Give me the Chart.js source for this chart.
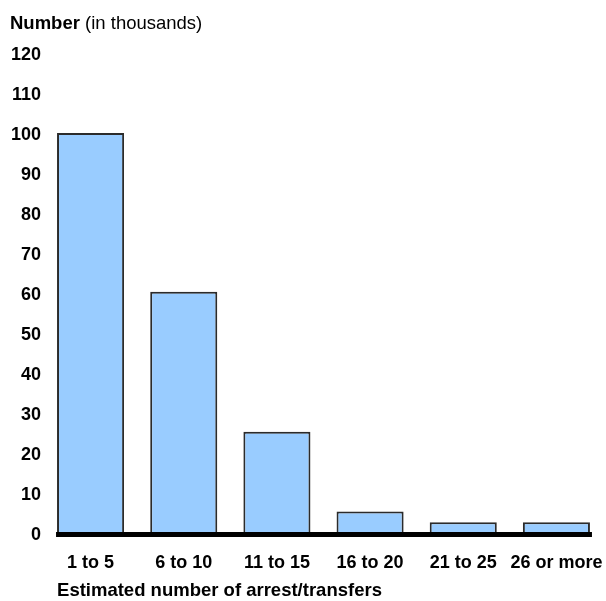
<!DOCTYPE html>
<html>
<head>
<meta charset="utf-8">
<script src="https://cdn.jsdelivr.net/npm/chart.js@4/dist/chart.umd.min.js"></script>
<style>
  html, body { margin: 0; padding: 0; background: #fff; }
  #wrap { width: 606px; height: 601px; position: relative; }
</style>
</head>
<body>
<div id="wrap"><canvas id="c"></canvas></div>
<script>
// Arrest/transfer counts, in thousands
const categories = ['1 to 5', '6 to 10', '11 to 15', '16 to 20', '21 to 25', '26 or more'];
const values = [100.5, 60.8, 25.8, 5.9, 3.2, 3.2];
const yTicks = [0, 10, 20, 30, 40, 50, 60, 70, 80, 90, 100, 110, 120];

const FONT = '"Liberation Sans", Arial, Helvetica, sans-serif';

// Heading above the value axis and caption under the category labels
const textPlugin = {
  id: 'texts',
  afterDraw(chart) {
    const ctx = chart.ctx;
    ctx.save();
    ctx.fillStyle = '#000';
    ctx.textBaseline = 'alphabetic';
    ctx.textAlign = 'left';
    ctx.font = 'bold 18.5px ' + FONT;
    const bold = 'Number';
    ctx.fillText(bold, 10, 29);
    const w = ctx.measureText(bold).width;
    ctx.font = '18.5px ' + FONT;
    ctx.fillText(' (in thousands)', 10 + w, 29);

    const meta = chart.getDatasetMeta(0);
    const first = meta.data[0];
    const left = first.x - first.width / 2;
    ctx.font = 'bold 18.5px ' + FONT;
    ctx.fillText('Estimated number of arrest/transfers', left, 596);
    ctx.restore();
  }
};

// Heavy zero line spanning the bars
const baselinePlugin = {
  id: 'baseline',
  afterDatasetsDraw(chart) {
    const meta = chart.getDatasetMeta(0);
    const a = meta.data[0], b = meta.data[meta.data.length - 1];
    const y = chart.scales.y.getPixelForValue(0);
    const ctx = chart.ctx;
    ctx.save();
    ctx.fillStyle = '#000';
    ctx.fillRect(a.x - a.width / 2 - 1, y - 3, (b.x + b.width / 2) - (a.x - a.width / 2) + 3, 5);
    ctx.restore();
  }
};

new Chart(document.getElementById('c'), {
  type: 'bar',
  data: {
    labels: categories,
    datasets: [{
      data: values,
      backgroundColor: '#99CCFF',
      borderColor: '#2b2b2b',
      borderWidth: 2,
      borderSkipped: false,
      barPercentage: 0.72,
      categoryPercentage: 1.0
    }]
  },
  options: {
    responsive: true,
    maintainAspectRatio: false,
    animation: false,
    layout: { padding: { top: 55, right: 3, left: 0, bottom: 0 } },
    plugins: { legend: { display: false }, tooltip: { enabled: false } },
    scales: {
      x: {
        grid: { display: false, drawTicks: false },
        border: { display: false },
        ticks: {
          color: '#000',
          font: { family: FONT, size: 18, weight: 'bold' },
          padding: 17,
          maxRotation: 0,
          autoSkip: false
        },
        afterFit(s) { s.height = 66; s.paddingLeft = 0; s.paddingRight = 0; }
      },
      y: {
        min: 0,
        max: 120,
        grid: { display: false, drawTicks: false },
        border: { display: false },
        afterBuildTicks(s) { s.ticks = yTicks.map(v => ({ value: v })); },
        ticks: {
          color: '#000',
          font: { family: FONT, size: 18, weight: 'bold' },
          padding: 3
        },
        afterFit(s) { s.width = 44; }
      }
    }
  },
  plugins: [textPlugin, baselinePlugin]
});
</script>
</body>
</html>
